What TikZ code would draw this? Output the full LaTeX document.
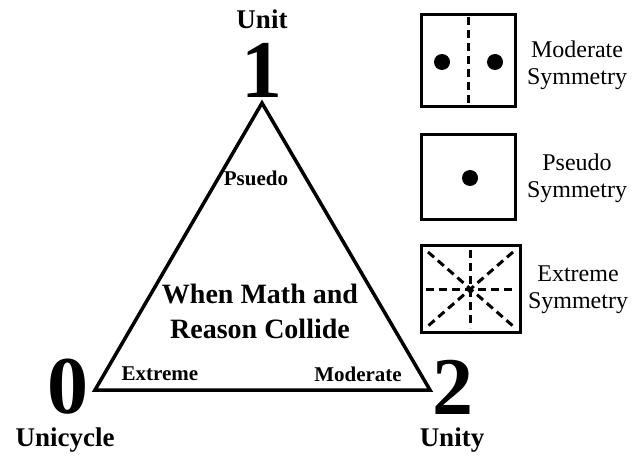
\documentclass[tikz,border=0pt]{standalone}
\usepackage{fontspec}
\setmainfont{Liberation Serif}
\begin{document}
\begin{tikzpicture}[x=1pt,y=-1pt,
  lbl/.style={font=\bfseries\fontsize{27}{29}\selectfont, align=center, inner sep=0pt},
  mid/.style={font=\bfseries\fontsize{21}{23}\selectfont, inner sep=0pt},
  big/.style={font=\bfseries\fontsize{82}{82}\selectfont, inner sep=0pt},
  side/.style={font=\fontsize{24}{27}\selectfont, align=center, inner sep=0pt},
  box/.style={line width=3pt},
  dsh/.style={line width=3pt, dash pattern=on 8pt off 5pt},
  dot/.style={fill=black}]
\useasboundingbox (0,0) rectangle (640,457);
\coordinate (T) at (262,103);
\coordinate (L) at (95,390);
\coordinate (R) at (430,390);
\draw[line width=3.5pt, line join=miter] (T) -- (L) -- (R) -- cycle;
\node[big] (n1) at (262,70) {1};
\node[lbl] (u1) at (262,19) {Unit};
\node[big] (n0) at (68,387) {0};
\node[lbl] (u0) at (65,440) {Unicycle};
\node[big] (n2) at (453,387) {2};
\node[lbl] (u2) at (452,440) {Unity};
\node[mid] (ps) at (256,178) {Psuedo};
\node[mid] (ex) at (160,374) {Extreme};
\node[mid] (mo) at (358,374) {Moderate};
\node[lbl, font=\bfseries\fontsize{28}{35}\selectfont] (title) at (260,311) {When Math and\\Reason Collide};
% box 1
\draw[box] (421,15) rectangle (515,107);
\draw[dsh] (468,17) -- (468,105);
\fill[dot] (442,62) circle (8);
\fill[dot] (495,62) circle (8);
\node[side] at (577,65) {Moderate\\Symmetry};
% box 2
\draw[box] (421,135) rectangle (515,220);
\fill[dot] (470,178) circle (8);
\node[side] at (577,178) {Pseudo\\Symmetry};
% box 3
\draw[box] (421,246) rectangle (520,332);
\draw[dsh] (470,250) -- (470,328);
\draw[dsh] (426,289) -- (515,289);
\draw[dsh] (428,252) -- (513,326);
\draw[dsh] (513,252) -- (428,326);
\node[side] at (578,290) {Extreme\\Symmetry};
\end{tikzpicture}
\end{document}
